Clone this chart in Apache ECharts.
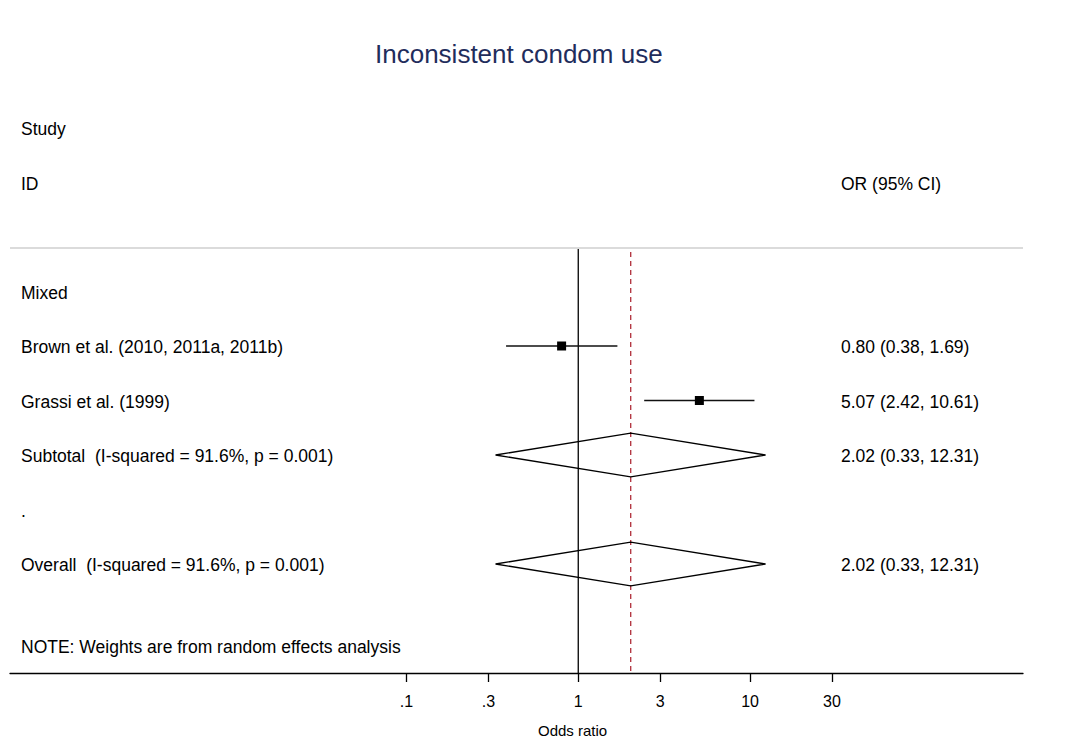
<!DOCTYPE html>
<html>
<head>
<meta charset="utf-8">
<script src="https://cdn.jsdelivr.net/npm/echarts@6/dist/echarts.min.js"></script>
<style>html,body{margin:0;padding:0;background:#fff}#c{width:1068px;height:753px}</style>
</head>
<body>
<div id="c"></div>
<script>
// ---- data ----
const titleText = 'Inconsistent condom use';
const studyLabels = ['Brown et al. (2010, 2011a, 2011b)', 'Grassi et al. (1999)'];
const studyOR = [0.80, 5.07];
const studyLower = [0.38, 2.42];
const studyUpper = [1.69, 10.61];
const studyRows = [4, 5];

const pooledLabels = ['Subtotal  (I-squared = 91.6%, p = 0.001)', 'Overall  (I-squared = 91.6%, p = 0.001)'];
const pooledOR = [2.02, 2.02];
const pooledLower = [0.33, 0.33];
const pooledUpper = [12.31, 12.31];
const pooledRows = [6, 8];

const headerLabels = ['Study', 'ID', 'Mixed', '.', 'NOTE: Weights are from random effects analysis'];
const headerRows = [0, 1, 3, 7, 9.5];
const rightHeader = 'OR (95% CI)';
const rightHeaderRow = 1;

const overallOR = 2.02;
const tickValues = [0.1, 0.3, 1, 3, 10, 30];
const tickLabels = ['.1', '.3', '1', '3', '10', '30'];
const axisTitle = 'Odds ratio';

// ---- chart ----
const FONT = '"Liberation Sans", Arial, sans-serif';
const lg = v => Math.log10(v);
const fmt = (o, l, u) => o.toFixed(2) + ' (' + l.toFixed(2) + ', ' + u.toFixed(2) + ')';
const tickLogs = tickValues.map(lg);
const labelMap = {};
tickLogs.forEach((t, i) => { labelMap[t.toFixed(6)] = tickLabels[i]; });

const LINE_TOP = 2.2;   // row where the header rule sits
const LEFT_X = 11;      // px offset of left text column from grid left
const RIGHT_X = 831;    // px offset of right text column from grid left

const textRows = [];
headerLabels.forEach((t, i) => textRows.push({ t, r: headerRows[i], side: 'L' }));
studyLabels.forEach((t, i) => {
  textRows.push({ t, r: studyRows[i], side: 'L' });
  textRows.push({ t: fmt(studyOR[i], studyLower[i], studyUpper[i]), r: studyRows[i], side: 'R' });
});
pooledLabels.forEach((t, i) => {
  textRows.push({ t, r: pooledRows[i], side: 'L' });
  textRows.push({ t: fmt(pooledOR[i], pooledLower[i], pooledUpper[i]), r: pooledRows[i], side: 'R' });
});
textRows.push({ t: rightHeader, r: rightHeaderRow, side: 'R' });

const chart = echarts.init(document.getElementById('c'), null, { renderer: 'svg' });
chart.setOption({
  backgroundColor: '#ffffff',
  animation: false,
  title: {
    text: titleText, left: 370, top: 36,
    textStyle: { fontFamily: FONT, fontSize: 26, fontWeight: 'normal', color: '#1f2d5c' }
  },
  graphic: [{
    type: 'text', left: 538, top: 723,
    style: { text: axisTitle, fontFamily: FONT, fontSize: 15, fill: '#000' }
  }],
  grid: { left: 10, right: 45, top: 128, bottom: 80 },
  xAxis: {
    type: 'value', min: -3.308, max: 2.589, position: 'bottom',
    splitLine: { show: false },
    axisLine: { onZero: false, lineStyle: { color: '#000', width: 1.3 } },
    axisTick: { show: true, length: 9, lineStyle: { color: '#000', width: 1.3 }, customValues: tickLogs },
    axisLabel: {
      customValues: tickLogs, margin: 20, color: '#000', fontFamily: FONT, fontSize: 16,
      formatter: v => labelMap[Number(v).toFixed(6)] || ''
    }
  },
  yAxis: { type: 'value', inverse: true, min: 0, max: 10, show: false },
  series: [
    {
      // header rule, null line and overall line
      type: 'custom', silent: true,
      data: [[0]],
      renderItem: (params, api) => {
        const cs = params.coordSys;
        const yTop = api.coord([0, LINE_TOP])[1];
        const yBot = api.coord([0, 10])[1];
        const x1 = api.coord([0, 0])[0];
        const xo = api.coord([lg(overallOR), 0])[0];
        return {
          type: 'group', children: [
            { type: 'line', shape: { x1: cs.x, y1: yTop, x2: cs.x + cs.width, y2: yTop }, style: { stroke: '#cfcfcf', lineWidth: 1.5 } },
            { type: 'line', shape: { x1: x1, y1: yTop + 1, x2: x1, y2: yBot }, style: { stroke: '#000', lineWidth: 1.3 } },
            { type: 'line', shape: { x1: xo, y1: yTop + 4, x2: xo, y2: yBot }, style: { stroke: '#b02e3a', lineWidth: 1.3, lineDash: [5, 4] } }
          ]
        };
      }
    },
    {
      // study CIs and squares
      type: 'custom', silent: true,
      data: studyOR.map((o, i) => [lg(o), studyRows[i], lg(studyLower[i]), lg(studyUpper[i])]),
      encode: { x: 0, y: 1 },
      renderItem: (params, api) => {
        const c = api.coord([api.value(0), api.value(1)]);
        const l = api.coord([api.value(2), api.value(1)]);
        const u = api.coord([api.value(3), api.value(1)]);
        const s = 9;
        return {
          type: 'group', children: [
            { type: 'line', shape: { x1: l[0], y1: l[1], x2: u[0], y2: u[1] }, style: { stroke: '#111', lineWidth: 1.3 } },
            { type: 'rect', shape: { x: c[0] - s / 2, y: c[1] - s / 2, width: s, height: s }, style: { fill: '#000' } }
          ]
        };
      }
    },
    {
      // pooled diamonds
      type: 'custom', silent: true,
      data: pooledOR.map((o, i) => [lg(o), pooledRows[i], lg(pooledLower[i]), lg(pooledUpper[i])]),
      encode: { x: 0, y: 1 },
      renderItem: (params, api) => {
        const c = api.coord([api.value(0), api.value(1)]);
        const l = api.coord([api.value(2), api.value(1)]);
        const u = api.coord([api.value(3), api.value(1)]);
        const h = api.size([0, 1])[1] * 0.4;
        return {
          type: 'polygon',
          shape: { points: [[l[0], c[1]], [c[0], c[1] - h], [u[0], c[1]], [c[0], c[1] + h]] },
          style: { fill: 'none', stroke: '#000', lineWidth: 1.3 }
        };
      }
    },
    {
      // text columns
      type: 'custom', silent: true,
      data: textRows.map((d, i) => [i, d.r]),
      renderItem: (params, api) => {
        const d = textRows[api.value(0)];
        const cs = params.coordSys;
        const y = api.coord([0, api.value(1)])[1];
        return {
          type: 'text',
          style: {
            text: d.t, x: cs.x + (d.side === 'L' ? LEFT_X : RIGHT_X), y: y + 1,
            fill: '#000', fontFamily: FONT, fontSize: 17.5,
            align: 'left', verticalAlign: 'middle'
          }
        };
      }
    }
  ]
});
</script>
</body>
</html>
